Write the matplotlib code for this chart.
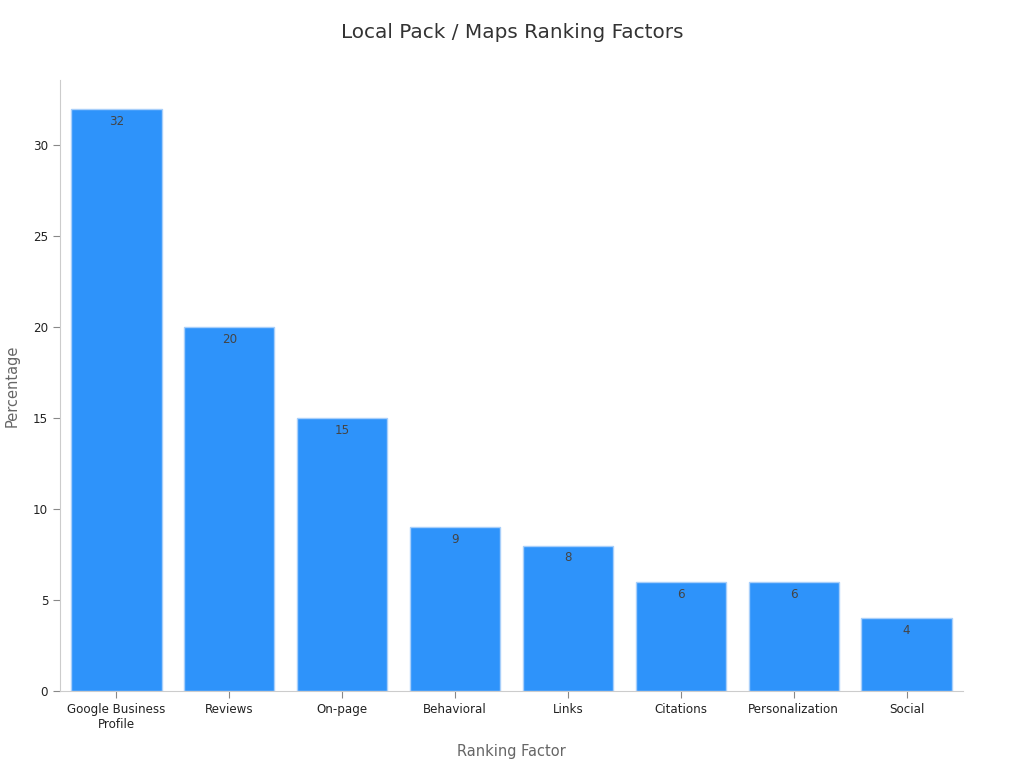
import matplotlib
matplotlib.use("Agg")
import matplotlib.pyplot as plt

categories = ["Google Business\nProfile", "Reviews", "On-page", "Behavioral", "Links",
              "Citations", "Personalization", "Social"]
values = [32, 20, 15, 9, 8, 6, 6, 4]

plt.rcParams['font.family'] = ['DejaVu Sans']
fig = plt.figure(figsize=(10.24, 7.68), dpi=100)
ax = fig.add_axes([0.0586, 0.100, 0.8818, 0.796])

x = list(range(len(categories)))
bars = ax.bar(x, values, width=0.8, color="#2E93FA", edgecolor="#A8CFFA", linewidth=1)
for xi, v in zip(x, values):
    ax.annotate(str(v), (xi, v), xytext=(0, -4), textcoords="offset points",
                ha="center", va="top", fontsize=8.6, color="#444444")

ax.set_xlim(-0.5, len(categories) - 0.5)
ax.set_ylim(0, 33.6)
ax.set_xticks(x)
ax.set_xticklabels(categories, fontsize=8.6, color="#222222")
ax.set_yticks([0, 5, 10, 15, 20, 25, 30])
ax.tick_params(axis="y", labelsize=8.6, colors="#222222", length=5, color="#888888")
ax.tick_params(axis="x", length=5, color="#888888")
for s in ["top", "right"]:
    ax.spines[s].set_visible(False)
for s in ["left", "bottom"]:
    ax.spines[s].set_color("#CCCCCC")
ax.set_xlabel("Ranking Factor", fontsize=10.5, color="#666666", labelpad=9)
ax.set_ylabel("Percentage", fontsize=10.5, color="#666666", labelpad=10)
fig.suptitle("Local Pack / Maps Ranking Factors", fontsize=14.4, color="#333333", y=0.97)

fig.savefig("out.png", dpi=100)
